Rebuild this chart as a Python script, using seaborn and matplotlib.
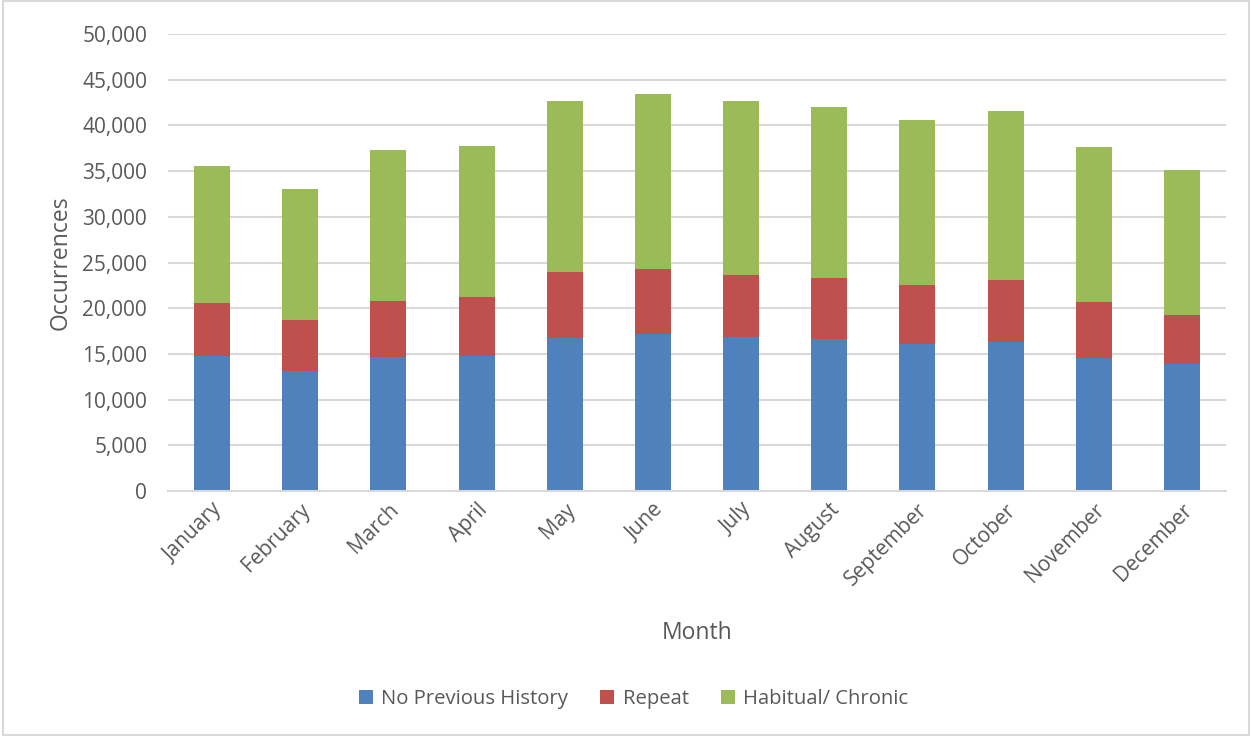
import matplotlib
matplotlib.use("Agg")
import matplotlib.pyplot as plt
from matplotlib.patches import Rectangle, Patch
import numpy as np
import pandas as pd
import seaborn as sns

months = ["January", "February", "March", "April", "May", "June", "July",
          "August", "September", "October", "November", "December"]
no_previous_history = [14770, 13130, 14660, 14770, 16740, 17140, 16880, 16590, 16080, 16270, 14590, 13900]
repeat = [5830, 5550, 6160, 6490, 7180, 7180, 6750, 6680, 6490, 6850, 6050, 5390]
habitual_chronic = [14990, 14360, 16490, 16520, 18750, 19120, 19040, 18780, 18020, 18420, 16960, 15790]

series_names = ["No Previous History", "Repeat", "Habitual/ Chronic"]
colors = ["#4F81BD", "#C0504D", "#9BBB59"]
text_color = "#595959"
grid_color = "#D9D9D9"

sns.set_theme(style="white")
plt.rcParams["font.family"] = ["Open Sans", "DejaVu Sans"]

df = pd.DataFrame({
    "Month": months,
    "s1": no_previous_history,
    "s2": repeat,
    "s3": habitual_chronic,
})
# cumulative heights for stacking: draw tallest first, shorter ones on top
df["c1"] = df["s1"]
df["c2"] = df["s1"] + df["s2"]
df["c3"] = df["s1"] + df["s2"] + df["s3"]

fig = plt.figure(figsize=(12.52, 7.36), dpi=100)
ax = fig.add_axes([168 / 1252, 1 - 491 / 736, (1226 - 168) / 1252, (491 - 34) / 736])

for col, color in zip(["c3", "c2", "c1"], colors[::-1]):
    sns.barplot(data=df, x="Month", y=col, color=color, width=0.41,
                saturation=1, ax=ax, zorder=3, edgecolor="none")

ax.set_ylim(0, 50000)
ax.set_yticks(np.arange(0, 50001, 5000))
ax.set_yticklabels([f"{v:,}" for v in range(0, 50001, 5000)])
ax.yaxis.grid(True, color=grid_color, linewidth=1.5, zorder=0)
ax.set_axisbelow(True)
for side in ["top", "right", "left"]:
    ax.spines[side].set_visible(False)
ax.spines["bottom"].set_color(grid_color)
ax.spines["bottom"].set_linewidth(1.5)
ax.spines["bottom"].set_zorder(4)

ax.tick_params(axis="y", length=0, pad=15, labelsize=15, labelcolor=text_color)
ax.tick_params(axis="x", length=0, pad=6, labelsize=15, labelcolor=text_color)
plt.setp(ax.get_xticklabels(), rotation=45, ha="right", rotation_mode="anchor")

ax.set_xlabel("Month", fontsize=16.5, color=text_color, labelpad=22)
ax.set_ylabel("Occurrences", fontsize=16.5, color=text_color, labelpad=7)

handles = [Patch(facecolor=c, edgecolor="none") for c in colors]
fig.legend(handles, series_names, loc="center", bbox_to_anchor=(0.506, 1 - 699 / 736),
           ncol=3, frameon=False, fontsize=14.6, labelcolor=text_color,
           handlelength=0.7, handleheight=0.7, handletextpad=0.4, columnspacing=1.6)

fig.patches.append(Rectangle((0.002, 0.002), 0.996, 0.996, transform=fig.transFigure,
                             fill=False, edgecolor=grid_color, linewidth=1.5))

fig.savefig("out.png", dpi=100, facecolor="white")
